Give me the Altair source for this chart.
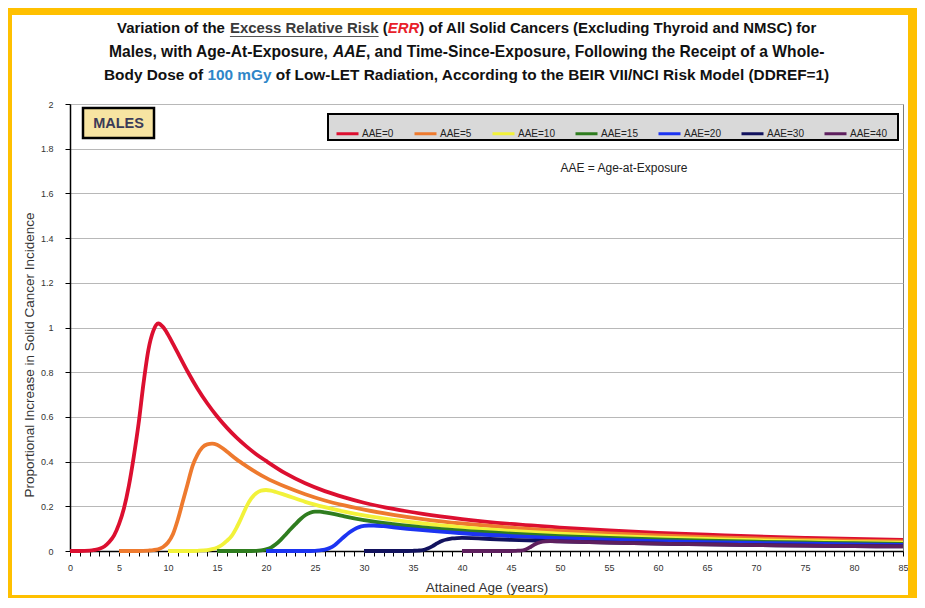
import altair as alt
import pandas as pd

FONT = "Liberation Sans"

AAE_LABELS = ["AAE=0", "AAE=5", "AAE=10", "AAE=15", "AAE=20", "AAE=30", "AAE=40"]
COLORS = ["#DC0F30", "#EE7A2E", "#F2F23A", "#2F7D1F", "#1C34F2", "#12125E", "#5E1F5E"]

ages_0 = [0, 1, 2, 2.5, 3, 3.5, 4, 4.5, 5, 5.5, 6, 6.5, 7, 7.5, 8, 8.5, 9, 9.5, 10, 10.5, 11, 11.5, 12, 13, 14, 15, 16,
          17, 18, 19, 20, 22, 24, 26, 28, 30, 33, 36, 40, 45, 50, 55, 60, 65, 70, 75, 80, 85]
err_0 = [0, 0, 0.002, 0.005, 0.01, 0.02, 0.04, 0.07, 0.12, 0.19, 0.29, 0.42, 0.57, 0.75, 0.90, 0.985, 1.018, 1.002,
         0.968, 0.928, 0.886, 0.844, 0.803, 0.727, 0.661, 0.603, 0.552, 0.507, 0.468, 0.433, 0.403, 0.347, 0.303, 0.268,
         0.24, 0.216, 0.188, 0.166, 0.143, 0.121, 0.105, 0.092, 0.081, 0.073, 0.065, 0.059, 0.054, 0.050]

ages_5 = [5, 6, 7, 8, 8.5, 9, 9.5, 10, 10.5, 11, 11.5, 12, 12.5, 13, 13.5, 14, 14.5, 15, 15.5, 16, 17, 18, 19, 20, 22, 24,
          26, 28, 30, 33, 36, 40, 45, 50, 55, 60, 65, 70, 75, 80, 85]
err_5 = [0, 0, 0, 0.002, 0.004, 0.008, 0.018, 0.038, 0.075, 0.14, 0.22, 0.30, 0.38, 0.43, 0.463, 0.477, 0.48, 0.475,
         0.462, 0.445, 0.41, 0.38, 0.352, 0.327, 0.287, 0.254, 0.226, 0.204, 0.185, 0.162, 0.143, 0.123, 0.105, 0.090,
         0.079, 0.070, 0.0625, 0.0563, 0.051, 0.0467, 0.043]

ages_10 = [10, 12, 13, 14, 14.5, 15, 15.5, 16, 16.5, 17, 17.5, 18, 18.5, 19, 19.5, 20, 20.5, 21, 22, 24, 26, 28, 30, 33,
           36, 40, 45, 50, 55, 60, 65, 70, 75, 80, 85]
err_10 = [0, 0, 0.001, 0.004, 0.008, 0.015, 0.027, 0.045, 0.068, 0.105, 0.15, 0.198, 0.235, 0.258, 0.27, 0.273, 0.27,
          0.264, 0.25, 0.22, 0.196, 0.176, 0.159, 0.139, 0.123, 0.106, 0.090, 0.078, 0.068, 0.060, 0.054, 0.0485, 0.044,
          0.040, 0.037]

ages_15 = [15, 18, 19, 19.5, 20, 20.5, 21, 21.5, 22, 22.5, 23, 23.5, 24, 24.5, 25, 25.5, 26, 27, 28, 30, 33, 36, 40, 45,
           50, 55, 60, 65, 70, 75, 80, 85]
err_15 = [0, 0, 0.001, 0.003, 0.007, 0.015, 0.03, 0.05, 0.073, 0.097, 0.12, 0.142, 0.16, 0.171, 0.176, 0.176, 0.173,
          0.165, 0.155, 0.138, 0.12, 0.106, 0.091, 0.0775, 0.067, 0.0585, 0.052, 0.0463, 0.0417, 0.038, 0.0346, 0.032]

ages_20 = [20, 24, 25, 25.5, 26, 26.5, 27, 27.5, 28, 28.5, 29, 29.5, 30, 30.5, 31, 32, 33, 36, 40, 45, 50, 55, 60, 65,
           70, 75, 80, 85]
err_20 = [0, 0, 0.001, 0.003, 0.006, 0.013, 0.026, 0.045, 0.065, 0.083, 0.097, 0.107, 0.112, 0.114, 0.114, 0.111,
          0.106, 0.093, 0.0795, 0.0668, 0.0576, 0.0504, 0.0446, 0.040, 0.036, 0.0326, 0.030, 0.0274]

ages_30 = [30, 34, 35, 35.5, 36, 36.5, 37, 37.5, 38, 38.5, 39, 39.5, 40, 41, 42, 45, 50, 55, 60, 65, 70, 75, 80, 85]
err_30 = [0, 0, 0.001, 0.002, 0.004, 0.011, 0.022, 0.035, 0.046, 0.052, 0.056, 0.058, 0.0585, 0.0575, 0.0555, 0.0496,
          0.0427, 0.0373, 0.033, 0.0295, 0.0266, 0.0241, 0.022, 0.0203]

ages_40 = [40, 45, 45.5, 46, 46.5, 47, 47.5, 48, 48.5, 49, 50, 55, 60, 65, 70, 75, 80, 85]
err_40 = [0, 0, 0.001, 0.002, 0.007, 0.018, 0.031, 0.039, 0.043, 0.0443, 0.043, 0.0373, 0.033, 0.0295, 0.0266, 0.0241,
          0.022, 0.0203]

X_TICKS = list(range(0, 86))
Y_TICKS = [0, 0.2, 0.4, 0.6, 0.8, 1, 1.2, 1.4, 1.6, 1.8, 2]

TITLE_LINES = [
    [("Variation of the ", "n"), ("Excess Relative Risk", "u"), (" (", "n"), ("ERR", "r"),
     (") of All Solid Cancers (Excluding Thyroid and NMSC) for", "n")],
    [("Males, with Age-At-Exposure, ", "n"), ("AAE", "i"),
     (", and Time-Since-Exposure, Following the Receipt of a Whole-", "n")],
    [("Body Dose of ", "n"), ("100 mGy", "b"),
     (" of Low-LET Radiation, According to the BEIR VII/NCI Risk Model (DDREF=1)", "n")],
]
TITLE_WIDTHS = [700, 716, 726]

# ---------------- build table ----------------
series = [(AAE_LABELS[0], ages_0, err_0), (AAE_LABELS[1], ages_5, err_5), (AAE_LABELS[2], ages_10, err_10),
          (AAE_LABELS[3], ages_15, err_15), (AAE_LABELS[4], ages_20, err_20), (AAE_LABELS[5], ages_30, err_30),
          (AAE_LABELS[6], ages_40, err_40)]
rows = []
for k, (lab, a, v) in enumerate(series):
    for ai, vi in zip(a, v):
        rows.append({"series": lab, "age": ai, "err": vi, "k": k})
df = pd.DataFrame(rows)

# Arial / Liberation Sans Bold advance widths (per 1000 em)
BW = {" ": 278, "(": 333, ")": 333, ",": 278, "-": 333, ".": 278, "/": 278, "=": 584,
      "A": 722, "B": 722, "C": 722, "D": 722, "E": 667, "F": 611, "G": 778, "H": 722, "I": 278, "J": 556, "K": 722,
      "L": 611, "M": 833, "N": 722, "O": 778, "P": 667, "Q": 778, "R": 722, "S": 667, "T": 611, "U": 722, "V": 667,
      "W": 944, "X": 667, "Y": 667, "Z": 611,
      "a": 556, "b": 611, "c": 556, "d": 611, "e": 556, "f": 333, "g": 611, "h": 611, "i": 278, "j": 278, "k": 556,
      "l": 278, "m": 889, "n": 611, "o": 611, "p": 611, "q": 611, "r": 389, "s": 556, "t": 333, "u": 611, "v": 556,
      "w": 778, "x": 556, "y": 556, "z": 500}


def em(s):
    return sum(BW.get(ch, 556) for ch in s) / 1000.0


one = pd.DataFrame({"k": [0]})


def txt(text, x, y, size, color, weight="normal", style="normal", align="left", angle=0):
    return alt.Chart(one).mark_text(text=text, align=align, baseline="middle", font=FONT, fontSize=size,
                                    fontWeight=weight, fontStyle=style, color=color, angle=angle).encode(
        x=alt.value(x), y=alt.value(y))


def box(x1, x2, y1, y2, fill, stroke=None, sw=0):
    kw = {"fill": fill}
    if stroke is not None:
        kw["stroke"] = stroke
        kw["strokeWidth"] = sw
    return alt.Chart(one).mark_rect(**kw).encode(x=alt.value(x1), x2=alt.value(x2), y=alt.value(y1),
                                                 y2=alt.value(y2))


layers = []
# yellow frame strips
YEL = "#FFC000"
layers += [box(-62, -58, -96, 494, YEL), box(-62, 847, -96, -89, YEL), box(838, 847, -96, 494, YEL),
           box(-62, 847, 491, 494, YEL)]

# title (rich text built from segments)
cx = 397
ys = [-75, -52, -29]
STY = {"n": ("#111111", "normal"), "u": ("#3a3a3a", "normal"), "r": ("#E8202A", "italic"),
       "i": ("#111111", "italic"), "b": ("#2E86C8", "normal")}
for line, yy, tw in zip(TITLE_LINES, ys, TITLE_WIDTHS):
    fs = tw / sum(em(s) for s, _ in line)
    x0 = cx - tw / 2
    for s, st in line:
        col, fst = STY[st]
        core = s.strip()
        lead = len(s) - len(s.lstrip())
        xs = x0 + em(s[:lead]) * fs
        layers.append(txt(core, xs, yy, fs, col, weight="bold", style=fst))
        if st == "u":
            layers.append(alt.Chart(one).mark_rule(color="#555555", strokeWidth=1).encode(
                x=alt.value(xs), x2=alt.value(xs + em(core) * fs), y=alt.value(yy + 7.5)))
        x0 += em(s) * fs

# legend box, MALES box, note, y title
layers.append(box(258, 828, 10, 36, "#d9d9d9", "#000000", 2))
layers.append(box(13, 84, 4, 34, "#F7E4A2", "#000000", 2.5))
layers.append(txt("MALES", 48.5, 19.5, 14.5, "#3B3B58", weight="bold", align="center"))
layers.append(txt("AAE = Age-at-Exposure", 554, 64, 12, "#222222", align="center"))
layers.append(txt("Proportional  Increase in Solid Cancer Incidence", -40, 251, 13.5, "#333333", align="center",
                  angle=270))

lines = alt.Chart(df).mark_line(strokeWidth=3.8, interpolate="monotone").encode(
    x=alt.X("age:Q", scale=alt.Scale(domain=[0, 85], nice=False, zero=False),
            axis=alt.Axis(values=X_TICKS, labelExpr="datum.value % 5 == 0 ? datum.label : ''", labelOverlap=False,
                          labelFlush=False, title="Attained Age (years)", grid=False, domainColor="#000000",
                          domainWidth=1.5, tickColor="#000000", tickSize=5, labelFont=FONT, labelFontSize=9,
                          labelColor="#333333", labelPadding=7, titleFont=FONT, titleFontSize=13.5,
                          titleFontWeight="normal", titleColor="#333333", titlePadding=8)),
    y=alt.Y("err:Q", scale=alt.Scale(domain=[0, 2], nice=False),
            axis=alt.Axis(values=Y_TICKS, format="~g", title=None, grid=True, gridColor="#b8b8b8", gridWidth=1,
                          domainColor="#000000", domainWidth=1.5, tickColor="#000000", tickSize=5, labelFont=FONT,
                          labelFontSize=9, labelColor="#333333", labelPadding=12)),
    color=alt.Color("series:N", scale=alt.Scale(domain=AAE_LABELS, range=COLORS),
                    legend=alt.Legend(orient="none", legendX=265, legendY=17, direction="horizontal", title=None,
                                      symbolType="stroke", symbolStrokeWidth=3, symbolSize=484, labelFont=FONT,
                                      labelFontSize=10, labelColor="#222222", labelOffset=2, columnPadding=14,
                                      padding=0)),
    order=alt.Order("k:Q"),
)
layers.append(lines)

chart = alt.layer(*layers).properties(
    width=833, height=447, background="white",
    padding={"left": 62, "top": 96, "right": 14, "bottom": 47},
    autosize=alt.AutoSizeParams(type="none"),
).configure_view(stroke="#7a7a7a", strokeWidth=1)

chart.save("out.html", embed_options={"renderer": "svg", "actions": False})
